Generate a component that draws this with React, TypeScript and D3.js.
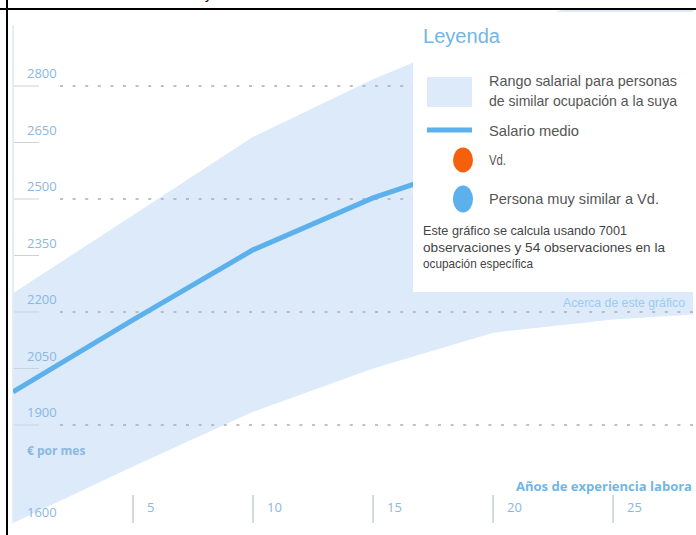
import React from 'react';
import * as d3 from 'd3';

const years = [0, 5, 10, 15, 20, 25, 30];
const upperSalary = [2250, 2457, 2665, 2818, 2950, 3040, 3100];
const lowerSalary = [1640, 1790, 1935, 2050, 2145, 2180, 2200];
const meanSalary = [1988, 2179, 2365, 2503, 2610, 2690, 2760];
const yTicks = [2800, 2650, 2500, 2350, 2200, 2050, 1900];
const yGrid = [2800, 2500, 2200, 1900];
const yMinLabel = 1600;
const xTicks = [5, 10, 15, 20, 25];
const legendRange = ['Rango salarial para personas', 'de similar ocupación a la suya'];
const legendMean = 'Salario medio';
const legendYou = 'Vd.';
const legendSimilar = 'Persona muy similar a Vd.';
const legendNote = [
  'Este gráfico se calcula usando 7001',
  'observaciones y 54 observaciones en la',
  'ocupación específica',
];

const BAND = '#dceafa';
const LINE = '#5cb0ec';
const ORANGE = '#f5600c';
const AXIS_TXT = '#8ab8e2';
const TITLE_BLUE = '#6fb6ea';
const LEG_TXT = '#555555';

export default function App() {
  const W = 696;
  const H = 535;
  const plot = { left: 13, right: 693, top: 10, bottom: 523 };
  const x = d3.scaleLinear().domain([0, 28.33]).range([plot.left, plot.right]);
  const y = d3.scaleLinear().domain([1900, 2800]).range([425, 86]);
  const rows = years.map((yr, i) => ({ yr, lo: lowerSalary[i], hi: upperSalary[i], m: meanSalary[i] }));
  const area = d3
    .area<any>()
    .x((d) => x(d.yr))
    .y0((d) => y(d.lo))
    .y1((d) => y(d.hi));
  const line = d3
    .line<any>()
    .x((d) => x(d.yr))
    .y((d) => y(d.m));

  const axisFont = "'Open Sans', sans-serif";
  const legFont = "'Liberation Sans', Arial, sans-serif";

  return (
    <svg
      width={W}
      height={H}
      style={{ position: 'absolute', left: 0, top: 0, background: '#fff' }}
    >
      <defs>
        <clipPath id="plotclip">
          <rect x={plot.left} y={plot.top} width={plot.right - plot.left} height={plot.bottom - plot.top} />
        </clipPath>
      </defs>

      {/* left faint axis line */}
      <line x1={13} x2={13} y1={25} y2={plot.bottom} stroke="#e6edf5" strokeWidth={2} />

      <g clipPath="url(#plotclip)">
        <path d={area(rows) || ''} fill={BAND} />
        {yGrid.map((v) => (
          <line
            key={'g' + v}
            x1={60}
            x2={plot.right}
            y1={y(v)}
            y2={y(v)}
            stroke="#a9adb2"
            strokeWidth={1.3}
            strokeDasharray="3 9.6"
          />
        ))}
        <path d={line(rows) || ''} fill="none" stroke={LINE} strokeWidth={5} />
      </g>

      {/* y axis ticks and labels */}
      {yTicks.map((v) => (
        <g key={'y' + v}>
          <line x1={14} x2={39} y1={y(v)} y2={y(v)} stroke="#c9d3dc" strokeWidth={1} />
          <text x={27} y={y(v) - 8} fontFamily={axisFont} fontSize={13} fill={AXIS_TXT}>
            {v}
          </text>
        </g>
      ))}
      <text x={27} y={517} fontFamily={axisFont} fontSize={13} fill={AXIS_TXT}>
        {yMinLabel}
      </text>
      <text x={27} y={455} fontFamily={axisFont} fontSize={12} fontWeight="bold" fill={AXIS_TXT}>
        € por mes
      </text>

      {/* x axis ticks */}
      {xTicks.map((t) => (
        <g key={'x' + t}>
          <line x1={x(t)} x2={x(t)} y1={495} y2={plot.bottom} stroke="#b9c0c8" strokeWidth={1.2} />
          <text x={x(t) + 14} y={512} fontFamily={axisFont} fontSize={13} fill={AXIS_TXT}>
            {t}
          </text>
        </g>
      ))}
      <text
        x={516}
        y={491}
        fontFamily={axisFont}
        fontSize={13}
        fontWeight="bold"
        fill={TITLE_BLUE}
        textLength={176}
        lengthAdjust="spacingAndGlyphs"
      >
        Años de experiencia labora
      </text>

      {/* legend box */}
      <rect x={413} y={12} width={290} height={280} fill="#ffffff" />
      <text
        x={423}
        y={43}
        fontFamily={legFont}
        fontSize={20}
        fill={TITLE_BLUE}
        textLength={77}
        lengthAdjust="spacingAndGlyphs"
      >
        Leyenda
      </text>
      <rect x={427} y={77} width={45} height={30} fill={BAND} />
      <text x={489} y={86} fontFamily={legFont} fontSize={15} fill={LEG_TXT} textLength={188} lengthAdjust="spacingAndGlyphs">
        {legendRange[0]}
      </text>
      <text x={489} y={106} fontFamily={legFont} fontSize={15} fill={LEG_TXT} textLength={188} lengthAdjust="spacingAndGlyphs">
        {legendRange[1]}
      </text>
      <line x1={427} x2={472} y1={130} y2={130} stroke={LINE} strokeWidth={5} />
      <text x={489} y={136} fontFamily={legFont} fontSize={15} fill={LEG_TXT} textLength={90} lengthAdjust="spacingAndGlyphs">
        {legendMean}
      </text>
      <ellipse cx={463} cy={160} rx={10} ry={12.5} fill={ORANGE} />
      <text x={489} y={165} fontFamily={legFont} fontSize={15} fill={LEG_TXT} textLength={17} lengthAdjust="spacingAndGlyphs">
        {legendYou}
      </text>
      <ellipse cx={463} cy={199} rx={10} ry={13.5} fill={LINE} />
      <text x={489} y={204} fontFamily={legFont} fontSize={15} fill={LEG_TXT} textLength={170} lengthAdjust="spacingAndGlyphs">
        {legendSimilar}
      </text>
      <text x={423} y={235} fontFamily={legFont} fontSize={13.5} fill="#444" textLength={204} lengthAdjust="spacingAndGlyphs">
        {legendNote[0]}
      </text>
      <text x={423} y={252} fontFamily={legFont} fontSize={13.5} fill="#444" textLength={242} lengthAdjust="spacingAndGlyphs">
        {legendNote[1]}
      </text>
      <text x={423} y={268} fontFamily={legFont} fontSize={13.5} fill="#444" textLength={110} lengthAdjust="spacingAndGlyphs">
        {legendNote[2]}
      </text>
      <text
        x={563}
        y={307}
        fontFamily={legFont}
        fontSize={12}
        fill="#9ccbf0"
        textLength={122}
        lengthAdjust="spacingAndGlyphs"
      >
        Acerca de este gráfico
      </text>

      {/* screenshot frame */}
      <rect x={0} y={8} width={W} height={2} fill="#000" />
      <rect x={6} y={0} width={2} height={H} fill="#000" />
      <text x={205} y={-1} fontFamily={legFont} fontSize={14} fill="#000">
        y
      </text>
    </svg>
  );
}
